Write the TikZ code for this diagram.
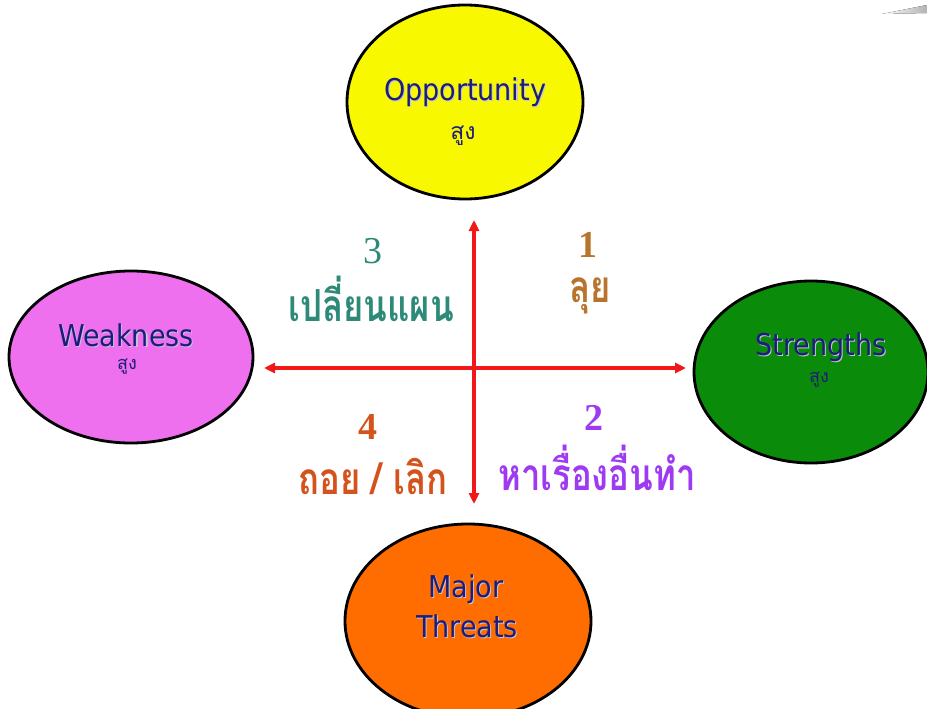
\documentclass[tikz,border=0pt]{standalone}
\usepackage{fontspec}
\usepackage{graphicx}
\usetikzlibrary{shapes.geometric,arrows.meta}
\setmainfont{Liberation Serif}
\newfontfamily\labelfont{DejaVu Sans Condensed}
\newfontfamily\thaifont[Script=Thai]{Loma}

\definecolor{oppyellow}{HTML}{F8F800}
\definecolor{weakpink}{HTML}{EE70EE}
\definecolor{strgreen}{HTML}{0A8C0A}
\definecolor{thrtorange}{HTML}{FF6C00}
\definecolor{navytext}{HTML}{1C1C7A}
\definecolor{softshadow}{HTML}{C4C4D8}
\definecolor{axisred}{HTML}{F01818}
\definecolor{qteal}{HTML}{2E8A78}
\definecolor{qbrown}{HTML}{B8742C}
\definecolor{qorange}{HTML}{D4521C}
\definecolor{qpurple}{HTML}{9E3AF2}

% caption text with a soft drop shadow behind it
\newcommand{\shadowtext}[1]{%
  \makebox[0pt][l]{\hspace{1.1pt}\raisebox{-1.1pt}{\textcolor{softshadow}{#1}}}#1}
% tall Thai lettering
\newcommand{\tallthai}[1]{\scalebox{1.02}[1.3]{#1}}

\tikzset{
  bubble/.style={ellipse, draw=black, line width=2.8pt, inner sep=0pt},
  heading/.style={text=navytext, font=\labelfont\fontsize{30}{32}\selectfont, inner sep=0pt},
  levelmark/.style={text=navytext, font=\thaifont\fontsize{#1}{#1}\selectfont, inner sep=0pt},
  qnum/.style={font=\fontsize{38}{40}\selectfont, inner sep=0pt},
  qnumbold/.style={font=\bfseries\fontsize{38}{40}\selectfont, inner sep=0pt},
  qword/.style={font=\thaifont\bfseries\fontsize{34}{36}\selectfont, inner sep=0pt},
  axis/.style={draw=axisred, line width=3.2pt, {Triangle[length=11pt,width=10pt]}-{Triangle[length=11pt,width=10pt]}}
}

\begin{document}
\begin{tikzpicture}[x=1pt,y=-1pt]
  \useasboundingbox (0,0) rectangle (927,709);
  \clip (0,0) rectangle (927,709);

  % faint grey sliver in the top right corner
  \fill[left color=white, right color=black!30] (882,14) -- (927,5) -- (927,13) -- cycle;

  % the four factor bubbles
  \node[bubble, fill=oppyellow, minimum width=236pt, minimum height=194pt] (opp) at (465,102) {};
  \node[bubble, fill=weakpink, minimum width=244pt, minimum height=172pt] (weak) at (131,357) {};
  \node[bubble, fill=strgreen, minimum width=234pt, minimum height=182pt] (str) at (811,372) {};
  \node[bubble, fill=thrtorange, minimum width=246pt, minimum height=194pt] (thr) at (468,621) {};

  % bubble captions
  \node[heading] (oppname) at (465,93) {\shadowtext{Opportunity}};
  \node[levelmark=23] (opplevel) at (463,136) {สูง};
  \node[heading] (weakname) at (126,336) {\shadowtext{Weakness}};
  \node[levelmark=18] (weaklevel) at (127,367) {สูง};
  \node[heading] (strname) at (821,348) {\shadowtext{Strengths}};
  \node[levelmark=18] (strlevel) at (819,380) {สูง};
  \node[heading] (thrname1) at (466,590) {\shadowtext{Major}};
  \node[heading] (thrname2) at (467,627) {\shadowtext{Threats}};

  % cross of axes
  \coordinate (axW) at (264,368);
  \coordinate (axE) at (686,368);
  \coordinate (axN) at (474,220);
  \coordinate (axS) at (474,504);
  \draw[axis] (axW) -- (axE);
  \draw[axis] (axN) -- (axS);

  % quadrant labels
  \node[qnum, text=qteal] (q3num) at (373,251) {3};
  \node[qword, text=qteal] (q3word) at (371,299) {\tallthai{เปลี่ยนแผน}};
  \node[qnumbold, text=qbrown] (q1num) at (588,245) {1};
  \node[qword, text=qbrown] (q1word) at (590,296) {\tallthai{ลุย}};
  \node[qnumbold, text=qorange] (q4num) at (368,427) {4};
  \node[qword, text=qorange] (q4word) at (373,476) {\tallthai{ถอย / เลิก}};
  \node[qnumbold, text=qpurple] (q2num) at (594,418) {2};
  \node[qword, text=qpurple] (q2word) at (597,468) {\tallthai{หาเรื่องอื่นทำ}};
\end{tikzpicture}
\end{document}
